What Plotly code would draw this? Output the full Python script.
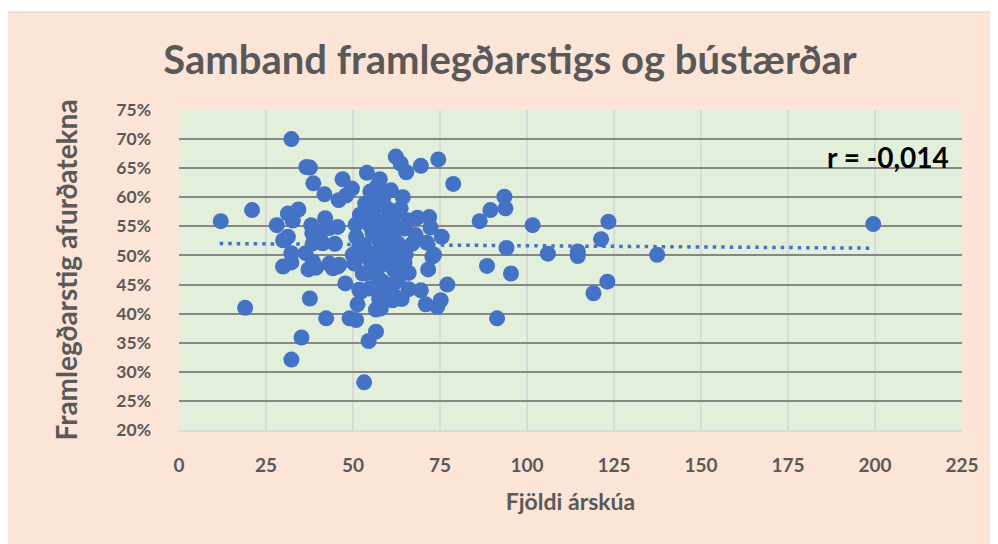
import plotly.graph_objects as go

# Data
herd_size = [12, 21, 19, 32.3, 36.6, 37.6, 38.6, 41.8, 47, 49.7, 48, 45.9, 54, 53.5, 31.3, 34.3, 32.7, 28.1, 31.3, 32.3,
             29.9, 32.3, 29.9, 38, 38.3, 38.5, 36.4, 37.2, 39.4, 42, 43.2, 45.6, 41.3, 43.2, 45.6, 44.8, 50.8, 50.9, 47.8, 37.6,
             42.3, 49, 50.9, 35.2, 32.3, 53.2, 54.5, 51.3, 52.3, 52.8, 50.9, 62.3, 63.7, 65.3, 69.5, 74.5, 78.8, 57.7, 60.9, 64.3,
             58.7, 57.1, 63.7, 68.5, 71.9, 72.3, 75.5, 71.2, 73.3, 71.6, 77.1, 60.0, 64.7, 55.6, 86.4, 89.5, 93.5, 93.8, 101.6, 94.1,
             88.5, 95.4, 65.2, 64.8, 57.5, 61.8, 51.8, 66.0, 69.5, 91.4, 75.2, 74.2, 70.9, 61.4, 61.8, 56.6, 56.6, 58.0, 50.4, 57.1,
             72.8, 49.9, 106.0, 114.6, 114.6, 121.3, 123.4, 123.1, 119.1, 137.4, 199.5, 40.9, 53.2, 56.6, 57.5, 38.5, 46.1, 52.8, 56.6, 59.5,
             61.4, 58.5, 44.2, 51.8, 54.7, 57.5, 57.1, 58.5, 58.0,
             55, 58, 60, 62, 63, 60, 55, 54, 59, 63, 66, 67, 62, 56, 60, 54, 52, 55, 57, 62, 66, 68, 62, 64]
margin_pct = [55.9, 57.8, 41.0, 70.0, 65.2, 65.1, 62.4, 60.5, 63.1, 61.5, 60.3, 59.5, 64.2, 58.9, 57.2, 57.9, 56.0, 55.2, 53.2, 50.4,
              48.1, 48.8, 52.6, 55.2, 53.8, 52.1, 50.4, 47.6, 47.9, 56.4, 54.7, 54.9, 52.1, 48.6, 48.1, 52.0, 55.3, 53.2, 45.2, 42.6,
              39.2, 39.2, 38.9, 35.9, 32.1, 28.2, 35.3, 41.6, 43.8, 46.9, 49.8, 67.0, 65.8, 64.3, 65.4, 66.5, 62.3, 63.1, 61.2, 60.0,
              59.9, 58.7, 58.1, 56.5, 56.6, 54.8, 53.2, 52.2, 50.1, 47.6, 45.0, 56.1, 54.6, 53.8, 55.9, 57.8, 60.1, 58.1, 55.2, 51.3,
              48.2, 46.9, 50.2, 48.8, 50.6, 47.5, 51.5, 44.2, 44.0, 39.2, 42.3, 41.2, 41.6, 42.3, 45.2, 40.7, 36.9, 42.9, 48.6, 47.8,
              49.8, 50.1, 50.3, 50.7, 49.9, 52.8, 55.8, 45.5, 43.5, 50.1, 55.4, 54.1, 51.8, 56.1, 52.7, 48.9, 48.4, 50.1, 50.4, 56.1,
              53.2, 49.8, 47.8, 44.1, 44.3, 42.6, 46.3, 45.5, 40.9,
              55, 54, 52, 50, 52, 48.5, 49, 47, 44, 46, 47, 52, 55, 58, 58, 56, 57, 61, 62, 57, 56, 53.5, 43, 42.5]

trend_x = [11.7, 199.5]
trend_y = [52.05, 51.25]

x_ticks = [0, 25, 50, 75, 100, 125, 150, 175, 200, 225]
y_ticks = [20, 25, 30, 35, 40, 45, 50, 55, 60, 65, 70, 75]

title_text = "Samband framlegðarstigs og bústærðar"
x_title = "Fjöldi árskúa"
y_title = "Framlegðarstig afurðatekna"
r_text = "r = -0,014"

# page geometry: the figure sits at (8, 8) in the page because of the body margin
OFF = 8
W, H = 998 - OFF, 544 - OFF
PL, PR, PT, PB = 179, 962, 110, 430          # plot area in page pixels
L, R, T, B = PL - OFF, 998 - PR, PT - OFF, 544 - PB
pw, ph = PR - PL, PB - PT

def px_x(p):
    return (p - PL) / pw

def px_y(p):
    return (PB - p) / ph

FONT = "Lato"
GRAY = "#595959"
BLUE = "#4472C4"

fig = go.Figure()
fig.add_trace(go.Scatter(
    x=trend_x, y=trend_y, mode="lines",
    line=dict(color=BLUE, width=3.5, dash="3.5px,5px"),
    hoverinfo="skip", showlegend=False))
fig.add_trace(go.Scatter(
    x=herd_size, y=margin_pct, mode="markers",
    marker=dict(color=BLUE, size=16, line=dict(width=0)),
    showlegend=False))

fig.update_layout(
    width=W, height=H,
    margin=dict(l=L, r=R, t=T, b=B, pad=0, autoexpand=False),
    paper_bgcolor="white",
    plot_bgcolor="#E2EFDA",
    showlegend=False,
    title=dict(text=title_text, x=(510 - OFF) / W, xref="container", xanchor="center",
               y=1 - (60 - OFF) / H, yref="container", yanchor="middle", automargin=False,
               font=dict(family=FONT, size=40, color=GRAY, weight="bold")),
    shapes=[
        dict(type="rect", xref="paper", yref="paper", layer="below",
             x0=px_x(4), x1=px_x(1010), y0=px_y(560), y1=px_y(12),
             fillcolor="#FCE4D6", line=dict(color="#D0D0D0", width=1)),
        dict(type="rect", xref="paper", yref="paper", layer="below",
             x0=0, x1=1, y0=0, y1=1, fillcolor="#E2EFDA", line=dict(width=0)),
    ],
    annotations=[
        dict(text=r_text, xref="paper", yref="paper", x=px_x(951), y=px_y(157),
             xanchor="right", yanchor="middle", showarrow=False,
             font=dict(family=FONT, size=28, color="black", weight="bold")),
    ],
)

fig.update_xaxes(
    automargin=False,
    range=[0, 225], tickvals=x_ticks, ticktext=[str(v) for v in x_ticks],
    showgrid=True, gridcolor="#D9D9D9", gridwidth=2,
    showline=True, linecolor="#D9D9D9", linewidth=2, mirror=False,
    zeroline=False, ticks="", ticklabelstandoff=17,
    tickfont=dict(family=FONT, size=19, color=GRAY, weight="bold"),
    title=dict(text=x_title, standoff=19,
               font=dict(family=FONT, size=23, color=GRAY, weight="bold")),
)
fig.update_yaxes(
    automargin=False,
    range=[20, 75], tickvals=y_ticks, ticktext=[f"{v}%" for v in y_ticks],
    showgrid=True, gridcolor="#878787", gridwidth=2,
    showline=False, zeroline=False, ticks="", ticklabelstandoff=27,
    tickfont=dict(family=FONT, size=17.5, color=GRAY, weight="bold"),
    title=dict(text=y_title, standoff=30,
               font=dict(family=FONT, size=28, color=GRAY, weight="bold")),
)

fig.write_html("out.html")
